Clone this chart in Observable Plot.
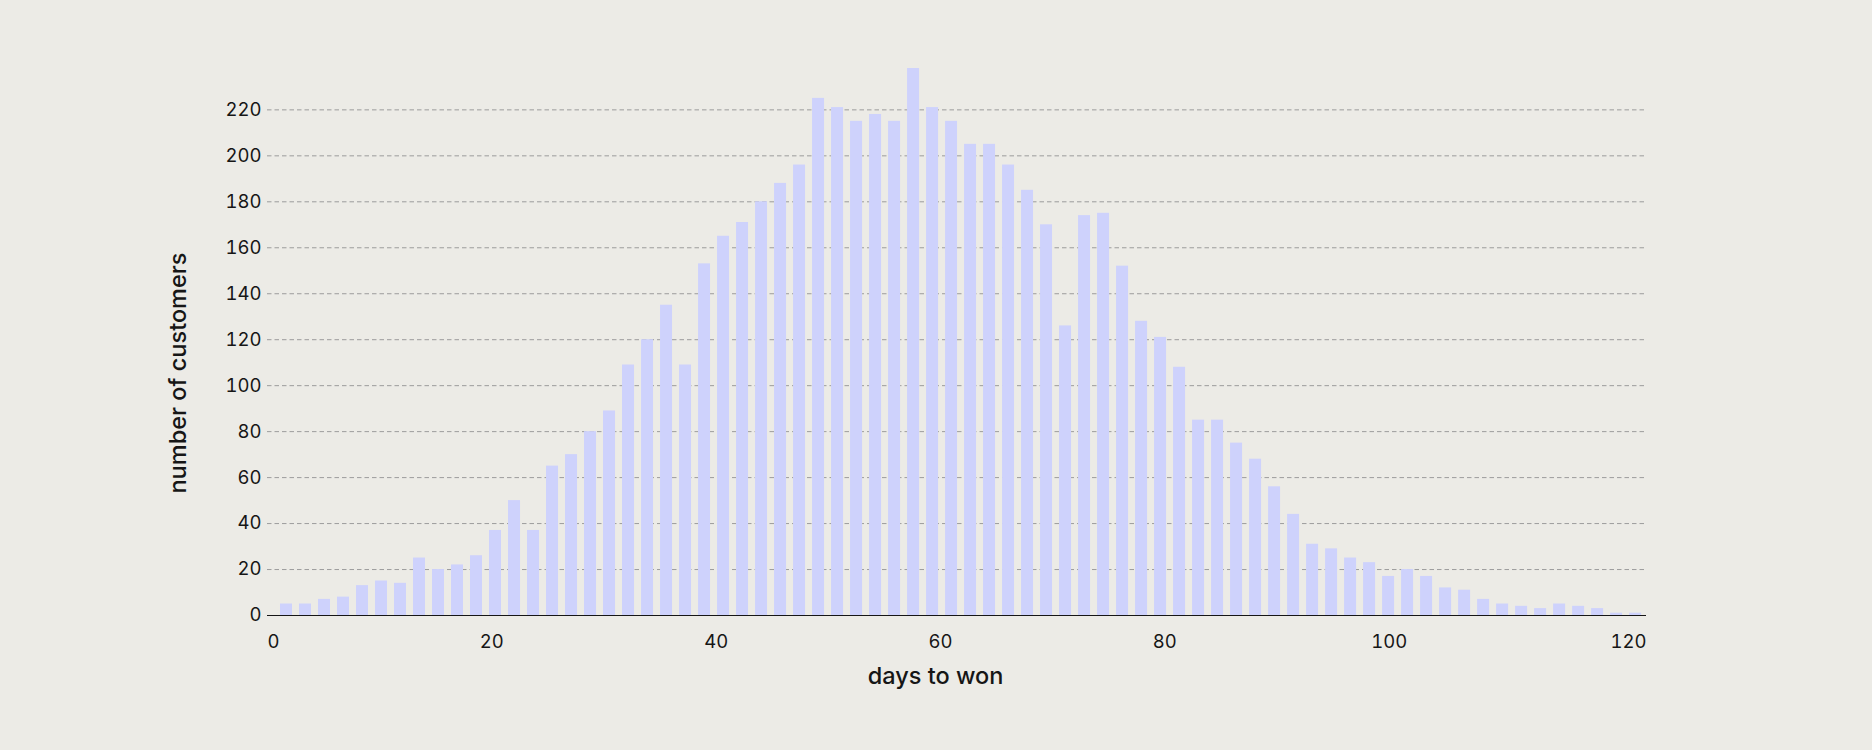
<!DOCTYPE html>
<html>
<head>
<meta charset="utf-8">
<script src="https://cdn.jsdelivr.net/npm/d3@7"></script>
<script src="https://cdn.jsdelivr.net/npm/@observablehq/plot@0.6"></script>
<style>
  html, body { margin: 0; padding: 0; background: #ECEBE6; }
  #chart svg { display: block; font-variant-numeric: tabular-nums; }
</style>
</head>
<body>
<div id="chart"></div>
<script>
// Histogram counts: number of customers per bin of "days to won"
const counts = [
  5, 5, 7, 8, 13, 15, 14, 25, 20, 22,
  26, 37, 50, 37, 65, 70, 80, 89, 109, 120,
  135, 109, 153, 165, 171, 180, 188, 196, 225, 221,
  215, 218, 215, 238, 221, 215, 205, 205, 196, 185,
  170, 126, 174, 175, 152, 128, 121, 108, 85, 85,
  75, 68, 56, 44, 31, 29, 25, 23, 17, 20,
  17, 12, 11, 7, 5, 4, 3, 5, 4, 3,
  1, 1
];
const binStart = 0.847;   // left edge of the first bin (days)
const binWidth = 1.694;   // bin width (days)
const xDomain = [0, 122.94];
const xTicks = [0, 20, 40, 60, 80, 100, 120];
const yTicks = [0, 20, 40, 60, 80, 100, 120, 140, 160, 180, 200, 220];
const xTitle = "days to won";
const yTitle = "number of customers";

const bins = counts.map((c, i) => ({
  x1: binStart + i * binWidth,
  x2: binStart + (i + 1) * binWidth,
  count: c
}));

const chart = Plot.plot({
  width: 1872,
  height: 750,
  marginLeft: 267,
  marginRight: 226,
  marginTop: 68,
  marginBottom: 135,
  style: {
    background: "#ECEBE6",
    fontFamily: "Inter, 'Noto Sans', sans-serif",
    fontSize: "18px",
    color: "#161616"
  },
  x: { domain: xDomain },
  y: { domain: [0, d3.max(counts)] },
  marks: [
    Plot.gridY(yTicks.filter(d => d > 0), {
      stroke: "#9c9c9c", strokeOpacity: 1, strokeWidth: 1, strokeDasharray: "4.5,3"
    }),
    Plot.rectY(bins, {
      x1: "x1", x2: "x2", y: "count",
      insetLeft: 3.5, insetRight: 3.5,
      fill: "#CED2FC"
    }),
    Plot.ruleY([0], { stroke: "#161616", strokeWidth: 1 }),
    Plot.axisY(yTicks, { tickSize: 0, tickPadding: 6, label: null, fontSize: 18.5 }),
    Plot.axisX(xTicks.slice(1, -1), { tickSize: 0, tickPadding: 19, label: null, fontSize: 18.5 }),
    Plot.axisX([xTicks[0]], { tickSize: 0, tickPadding: 19, label: null, fontSize: 18.5, textAnchor: "start" }),
    Plot.text([xTicks[xTicks.length - 1]], {
      text: d => String(d), frameAnchor: "bottom-right", textAnchor: "end",
      lineAnchor: "top", dy: 19, fontSize: 18.5
    }),
    Plot.text([xTitle], {
      text: d => d, frameAnchor: "bottom", textAnchor: "middle", lineAnchor: "bottom",
      dx: -21.5, dy: 68, fontSize: 23.5, fontWeight: 500
    }),
    Plot.text([yTitle], {
      text: d => d, frameAnchor: "left", rotate: -90, textAnchor: "middle", lineAnchor: "bottom",
      dx: -82, dy: 31, fontSize: 23.5, fontWeight: 500
    })
  ]
});
document.getElementById("chart").appendChild(chart);
</script>
</body>
</html>
